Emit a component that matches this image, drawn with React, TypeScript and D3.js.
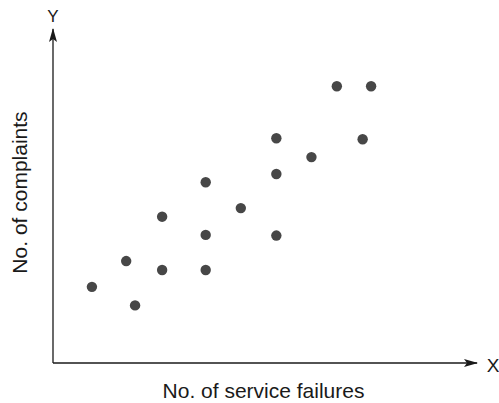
import React from "react";
import * as d3 from "d3";

const xValues = [9.2, 17.3, 19.4, 25.8, 25.8, 36.1, 36.1, 36.1, 44.4, 52.8, 52.8, 52.8, 61.1, 67.1, 75.2, 73.2];
const yValues = [23.0, 30.8, 17.4, 44.2, 28.1, 54.6, 38.7, 28.1, 46.8, 67.9, 57.1, 38.5, 62.2, 83.6, 83.6, 67.6];
const xLabel = "No. of service failures";
const yLabel = "No. of complaints";
const xAxisName = "X";
const yAxisName = "Y";

const W = 499;
const H = 403;
const ox = 53;
const oy = 363;

export default function App() {
  const x = d3.scaleLinear().domain([0, 100]).range([ox, 476]);
  const y = d3.scaleLinear().domain([0, 100]).range([oy, 32]);
  const font = "Liberation Sans, Arial, Helvetica, sans-serif";
  const ax = "#1a1a1a";
  return (
    <svg width={W} height={H} style={{ position: "absolute", left: 0, top: 0, background: "#fff" }}>
      <defs>
        <marker id="arr" viewBox="0 0 14 8" refX="13" refY="4" markerWidth="14" markerHeight="8" markerUnits="userSpaceOnUse" orient="auto">
          <path d="M0,0 L14,4 L0,8 L3,4 Z" fill={ax} />
        </marker>
      </defs>
      <line x1={ox} y1={oy} x2={ox} y2={29} stroke={ax} strokeWidth={1.3} markerEnd="url(#arr)" />
      <line x1={ox} y1={oy} x2={477} y2={oy} stroke={ax} strokeWidth={1.3} markerEnd="url(#arr)" />
      {xValues.map((v, i) => (
        <circle key={i} cx={x(v)} cy={y(yValues[i])} r={5.2} fill="#474747" />
      ))}
      <text x={53} y={22} textAnchor="middle" fontFamily={font} fontSize={17} fill={ax}>{yAxisName}</text>
      <text x={493} y={372} textAnchor="middle" fontFamily={font} fontSize={19} fill={ax}>{xAxisName}</text>
      <text x={263.5} y={398} textAnchor="middle" fontFamily={font} fontSize={21} fill={ax}>{xLabel}</text>
      <text transform={`translate(27,192.5) rotate(-90)`} textAnchor="middle" fontFamily={font} fontSize={21} fill={ax}>{yLabel}</text>
    </svg>
  );
}
